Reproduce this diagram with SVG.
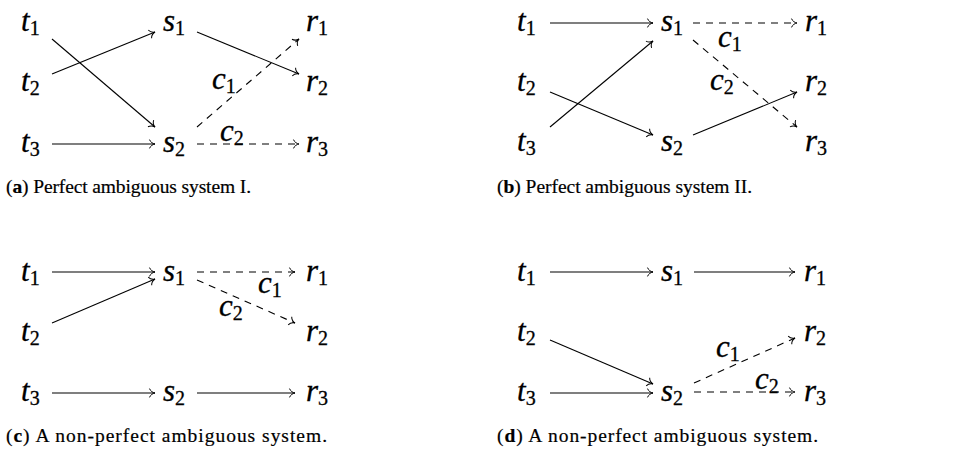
<svg xmlns="http://www.w3.org/2000/svg" width="954" height="453" viewBox="0 0 954 453">
<style>
.m{font-family:"Liberation Serif",serif;font-style:italic;font-size:31px;fill:#000;stroke:#000;stroke-width:0.3}
.s{font-style:normal;font-size:20px}
.cap{font-family:"Liberation Serif",serif;font-size:19.5px;fill:#000;stroke:#000;stroke-width:0.2}
.b{font-weight:bold}
.e{stroke:#000;stroke-width:1.1;fill:none;marker-end:url(#to)}
.d{stroke-dasharray:7 6}
</style>
<defs>
<marker id="to" markerUnits="userSpaceOnUse" markerWidth="12" markerHeight="12" viewBox="-8 -6 10 12" refX="0" refY="0" orient="auto">
<path d="M-5.5,-4.4 C-4.5,-1.8 -2.2,-0.4 0,0 C-2.2,0.4 -4.5,1.8 -5.5,4.4" stroke="#000" stroke-width="1" fill="none" stroke-dasharray="none"/>
</marker>
</defs>
<rect width="954" height="453" fill="#fff"/>

<g id="connectors">
<!-- a -->
<line class="e" x1="52" y1="39" x2="155" y2="127"/>
<line class="e" x1="52" y1="74" x2="155" y2="32"/>
<line class="e" x1="52" y1="144" x2="155" y2="144"/>
<line class="e" x1="197" y1="32" x2="299" y2="74"/>
<line class="e d" x1="197" y1="127" x2="299" y2="39"/>
<line class="e d" x1="197" y1="144" x2="299" y2="144"/>
<!-- b -->
<line class="e" x1="550" y1="23" x2="653" y2="23"/>
<line class="e" x1="550" y1="92" x2="653" y2="135"/>
<line class="e" x1="550" y1="127" x2="653" y2="41"/>
<line class="e d" x1="693" y1="23" x2="797" y2="23"/>
<line class="e d" x1="693" y1="40" x2="797" y2="127"/>
<line class="e" x1="693" y1="135" x2="797" y2="92"/>
<!-- c -->
<line class="e" x1="52" y1="272" x2="155" y2="272"/>
<line class="e" x1="52" y1="323" x2="155" y2="279"/>
<line class="e" x1="52" y1="393" x2="155" y2="393"/>
<line class="e d" x1="197" y1="272" x2="295" y2="272"/>
<line class="e d" x1="197" y1="280" x2="295" y2="323"/>
<line class="e" x1="197" y1="393" x2="295" y2="393"/>
<!-- d -->
<line class="e" x1="550" y1="272" x2="653" y2="272"/>
<line class="e" x1="694" y1="272" x2="795" y2="272"/>
<line class="e" x1="550" y1="340" x2="653" y2="384"/>
<line class="e" x1="550" y1="393" x2="653" y2="393"/>
<line class="e d" x1="694" y1="383" x2="795" y2="338"/>
<line class="e d" x1="694" y1="392" x2="795" y2="392"/>
</g>

<!-- panel a -->
<g id="a-t1"><text class="m" x="21" y="31">t<tspan class="s" dy="4">1</tspan></text></g>
<g id="a-t2"><text class="m" x="21" y="91">t<tspan class="s" dy="4">2</tspan></text></g>
<g id="a-t3"><text class="m" x="21" y="152">t<tspan class="s" dy="4">3</tspan></text></g>
<g id="a-s1"><text class="m" x="163" y="31">s<tspan class="s" dy="4">1</tspan></text></g>
<g id="a-s2"><text class="m" x="163" y="152">s<tspan class="s" dy="4">2</tspan></text></g>
<g id="a-r1"><text class="m" x="306" y="31">r<tspan class="s" dy="4">1</tspan></text></g>
<g id="a-r2"><text class="m" x="306" y="91">r<tspan class="s" dy="4">2</tspan></text></g>
<g id="a-r3"><text class="m" x="306" y="152">r<tspan class="s" dy="4">3</tspan></text></g>
<g id="a-c1"><text class="m" x="212" y="89">c<tspan class="s" dy="4">1</tspan></text></g>
<g id="a-c2"><text class="m" x="220" y="141">c<tspan class="s" dy="4">2</tspan></text></g>
<g id="a-cap"><text class="cap" x="6" y="193" textLength="245" lengthAdjust="spacing"><tspan>(</tspan><tspan class="b">a</tspan><tspan>) Perfect ambiguous system I.</tspan></text></g>

<!-- panel b -->
<g id="b-t1"><text class="m" x="517" y="31">t<tspan class="s" dy="4">1</tspan></text></g>
<g id="b-t2"><text class="m" x="517" y="91">t<tspan class="s" dy="4">2</tspan></text></g>
<g id="b-t3"><text class="m" x="517" y="151">t<tspan class="s" dy="4">3</tspan></text></g>
<g id="b-s1"><text class="m" x="661" y="31">s<tspan class="s" dy="4">1</tspan></text></g>
<g id="b-s2"><text class="m" x="661" y="151">s<tspan class="s" dy="4">2</tspan></text></g>
<g id="b-r1"><text class="m" x="805" y="31">r<tspan class="s" dy="4">1</tspan></text></g>
<g id="b-r2"><text class="m" x="805" y="91">r<tspan class="s" dy="4">2</tspan></text></g>
<g id="b-r3"><text class="m" x="805" y="151">r<tspan class="s" dy="4">3</tspan></text></g>
<g id="b-c1"><text class="m" x="718" y="47">c<tspan class="s" dy="4">1</tspan></text></g>
<g id="b-c2"><text class="m" x="710" y="90">c<tspan class="s" dy="4">2</tspan></text></g>
<g id="b-cap"><text class="cap" x="497" y="193" textLength="255" lengthAdjust="spacing"><tspan>(</tspan><tspan class="b">b</tspan><tspan>) Perfect ambiguous system II.</tspan></text></g>

<!-- panel c -->
<g id="c-t1"><text class="m" x="21" y="281">t<tspan class="s" dy="4">1</tspan></text></g>
<g id="c-t2"><text class="m" x="21" y="341">t<tspan class="s" dy="4">2</tspan></text></g>
<g id="c-t3"><text class="m" x="21" y="401">t<tspan class="s" dy="4">3</tspan></text></g>
<g id="c-s1"><text class="m" x="163" y="281">s<tspan class="s" dy="4">1</tspan></text></g>
<g id="c-s2"><text class="m" x="163" y="401">s<tspan class="s" dy="4">2</tspan></text></g>
<g id="c-r1"><text class="m" x="306" y="281">r<tspan class="s" dy="4">1</tspan></text></g>
<g id="c-r2"><text class="m" x="306" y="341">r<tspan class="s" dy="4">2</tspan></text></g>
<g id="c-r3"><text class="m" x="306" y="401">r<tspan class="s" dy="4">3</tspan></text></g>
<g id="c-c1"><text class="m" x="258" y="293">c<tspan class="s" dy="4">1</tspan></text></g>
<g id="c-c2"><text class="m" x="219" y="316">c<tspan class="s" dy="4">2</tspan></text></g>
<g id="c-cap"><text class="cap" x="6" y="442" textLength="321" lengthAdjust="spacing"><tspan>(</tspan><tspan class="b">c</tspan><tspan>) A non-perfect ambiguous system.</tspan></text></g>

<!-- panel d -->
<g id="d-t1"><text class="m" x="517" y="281">t<tspan class="s" dy="4">1</tspan></text></g>
<g id="d-t2"><text class="m" x="517" y="341">t<tspan class="s" dy="4">2</tspan></text></g>
<g id="d-t3"><text class="m" x="517" y="401">t<tspan class="s" dy="4">3</tspan></text></g>
<g id="d-s1"><text class="m" x="661" y="281">s<tspan class="s" dy="4">1</tspan></text></g>
<g id="d-s2"><text class="m" x="661" y="401">s<tspan class="s" dy="4">2</tspan></text></g>
<g id="d-r1"><text class="m" x="804" y="281">r<tspan class="s" dy="4">1</tspan></text></g>
<g id="d-r2"><text class="m" x="804" y="341">r<tspan class="s" dy="4">2</tspan></text></g>
<g id="d-r3"><text class="m" x="804" y="401">r<tspan class="s" dy="4">3</tspan></text></g>
<g id="d-c1"><text class="m" x="716" y="357">c<tspan class="s" dy="4">1</tspan></text></g>
<g id="d-c2"><text class="m" x="755" y="389">c<tspan class="s" dy="4">2</tspan></text></g>
<g id="d-cap"><text class="cap" x="497" y="442" textLength="321" lengthAdjust="spacing"><tspan>(</tspan><tspan class="b">d</tspan><tspan>) A non-perfect ambiguous system.</tspan></text></g>
</svg>
